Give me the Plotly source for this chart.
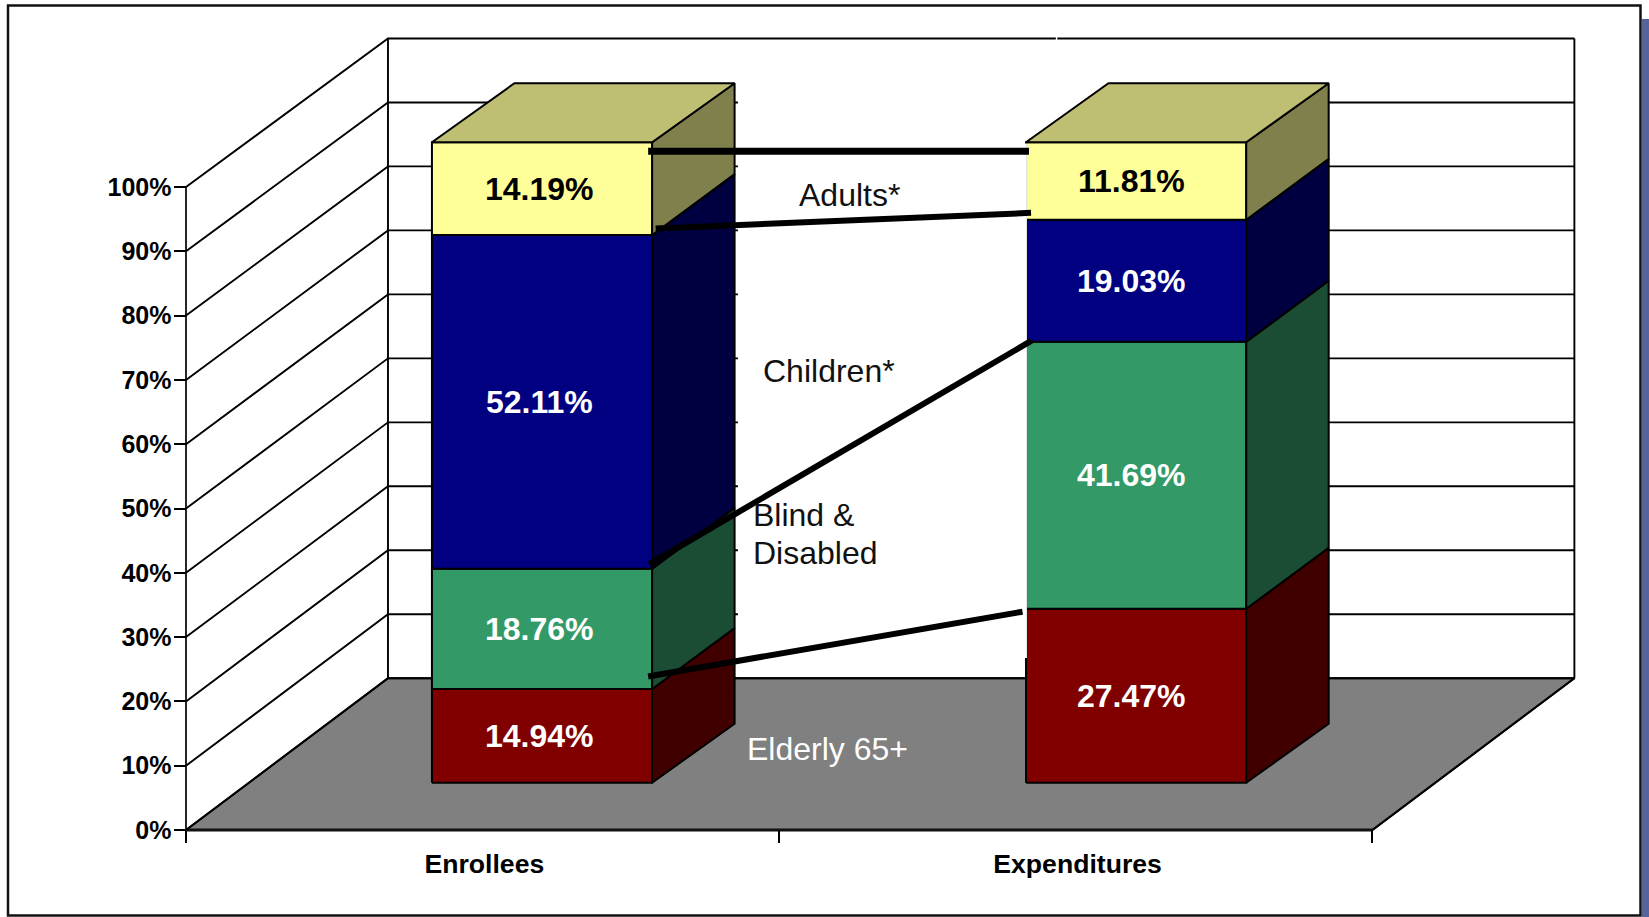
import plotly.graph_objects as go

# ---------- data ----------
categories = ["Enrollees", "Expenditures"]
elderly = [14.94, 27.47]
blind_disabled = [18.76, 41.69]
children = [52.11, 19.03]
adults = [14.19, 11.81]
y_ticks = [0, 10, 20, 30, 40, 50, 60, 70, 80, 90, 100]
y_tick_labels = [f"{v}%" for v in y_ticks]
series_names = ["Elderly 65+", "Blind &", "Disabled", "Children*", "Adults*"]

# ---------- geometry / style ----------
W, H = 1649, 917
FONT = "Liberation Sans"
X0_PX, X_SCALE = 186.0, 593.2      # px of u=0, px per category
Y0_PX, Y_SCALE = 830.0, 6.43       # px of v=0, px per value unit
WALL_DU, WALL_DV, WALL_K = 0.3405, 23.6, 0.995
BAR_U0, BAR_V0, BAR_K = 0.1062, 7.356, 0.996
BAR_DU, BAR_DV = 0.139, 9.176
BAR_CENTERS = [0.494, 1.4955]
BAR_HALF = 0.1856
BOUNDARY_NUDGE = 0.3               # interior stack edges sit slightly low on the front face
LABEL_SHIFT_PX = [-3.0, -5.0]


def px_x(p):
    return (p - X0_PX) / X_SCALE


def px_y(p):
    return (Y0_PX - p) / Y_SCALE


def wall(u, v, d=1.0):
    return u + d * WALL_DU, v * (1 - d * (1 - WALL_K)) + d * WALL_DV


def bar_pt(u, pct, back=0.0):
    nudge = BOUNDARY_NUDGE if back == 0 and 0 < pct < 99.99 else 0.0
    return u + BAR_U0 + back * BAR_DU, BAR_V0 + pct * BAR_K + back * BAR_DV - nudge


fig = go.Figure()


def poly(points, fill=None, color="black", width=1.5):
    xs = [p[0] for p in points]
    ys = [p[1] for p in points]
    if fill:
        xs.append(xs[0])
        ys.append(ys[0])
    fig.add_trace(go.Scatter(
        x=xs, y=ys, mode="lines", hoverinfo="skip", showlegend=False,
        fill="toself" if fill else "none", fillcolor=fill,
        line=dict(color=color, width=width),
    ))


# floor
floor = [wall(0, 0, 0), wall(2, 0, 0), wall(2, 0), wall(0, 0)]
poly(floor, fill="#808080", width=2)
poly([wall(0, 0, 0), wall(2, 0, 0)], color="#111111", width=3)

# walls and gridlines
for v in y_ticks:
    poly([wall(0, v, 0), wall(0, v), wall(2, v)], width=1.9)
poly([wall(0, 0, 0), wall(0, 100, 0)], width=1.7)
poly([wall(0, 0), wall(0, 100)], width=1.9)
poly([wall(2, 0), wall(2, 100)], width=1.9)
poly([wall(2, 0, 0), wall(2, 0)], width=1.9)

# white panel that hides gridlines between the two bars
poly([(px_x(738), px_y(41)), (px_x(1082), px_y(41)),
      (px_x(1082), px_y(676)), (px_x(738), px_y(676))],
     fill="white", color="white", width=0)
poly([(px_x(1056.6), px_y(36.5)), (px_x(1056.6), px_y(41))], color="white", width=1.5)

# stacked 3-D bars
stack = [
    (elderly, "#800000", "#400000", "#600000", "white"),
    (blind_disabled, "#339966", "#1A4D33", "#26734D", "white"),
    (children, "#000080", "#000040", "#000060", "white"),
    (adults, "#FFFF99", "#80804D", "#BFBF73", "black"),
]
boundaries = []
annotations = []
for i, c in enumerate(BAR_CENTERS):
    left, right = c - BAR_HALF, c + BAR_HALF
    base = 0.0
    levels = [0.0]
    for values, front, side, top, txt in stack:
        t = base + values[i]
        poly([bar_pt(left, base), bar_pt(right, base), bar_pt(right, t), bar_pt(left, t)], fill=front, width=2)
        poly([bar_pt(right, base), bar_pt(right, base, 1), bar_pt(right, t, 1), bar_pt(right, t)], fill=side, width=2)
        mx = bar_pt(c, 0)[0]
        my = (bar_pt(c, base)[1] + bar_pt(c, t)[1]) / 2
        annotations.append(dict(
            x=mx + LABEL_SHIFT_PX[i] / X_SCALE, y=my, xref="x", yref="y", text=f"{values[i]:.2f}%", showarrow=False,
            font=dict(family=FONT, size=32, color=txt, weight=700),
            xanchor="center", yanchor="middle",
        ))
        base = t
        levels.append(t)
    boundaries.append(levels)
    poly([bar_pt(left, base), bar_pt(right, base), bar_pt(right, base, 1), bar_pt(left, base, 1)],
         fill=stack[-1][3], width=2)

# left edge of the second bar is clipped by the white panel above y=658
poly([(px_x(1024), px_y(143.5)), (px_x(1026.9), px_y(143.5)),
      (px_x(1026.9), px_y(658)), (px_x(1024), px_y(658))],
     fill="white", color="white", width=0)

# connector lines between matching stack levels (px nudges on each end)
connectors = [
    (4, (-4, 9), (3, 9), 7),
    (3, (3.5, -6.5), (5, -7), 6),
    (2, (-3, -4.5), (5.5, -1), 6),
    (1, (-4, -12.5), (-3.5, 3), 6),
]
for lvl, off_l, off_r, w in connectors:
    xl, yl = bar_pt(BAR_CENTERS[0] + BAR_HALF, boundaries[0][lvl])
    xr, yr = bar_pt(BAR_CENTERS[1] - BAR_HALF, boundaries[1][lvl])
    poly([(xl + off_l[0] / X_SCALE, yl - off_l[1] / Y_SCALE),
          (xr + off_r[0] / X_SCALE, yr - off_r[1] / Y_SCALE)], color="black", width=w)

# series labels
label_pos = [(746, 749, "white"), (752, 515, "#111111"), (752, 553, "#111111"),
             (761.5, 371, "#111111"), (798, 195, "#111111")]
for name, (px, py, col) in zip(series_names, label_pos):
    annotations.append(dict(
        x=px_x(px), y=px_y(py), xref="x", yref="y", text=name, showarrow=False,
        font=dict(family=FONT, size=32, color=col), xanchor="left", yanchor="middle", borderpad=0,
    ))

fig.update_layout(
    width=W, height=H, autosize=False, showlegend=False,
    margin=dict(l=0, r=0, t=0, b=0),
    paper_bgcolor="white", plot_bgcolor="white",
    xaxis=dict(
        range=[px_x(0), px_x(W)], showgrid=False, zeroline=False, showline=False,
        anchor="free", position=(H - Y0_PX) / H,
        tickmode="array", tickvals=[0.503, 1.503], ticktext=categories, ticks="",
        tickfont=dict(family=FONT, size=26.6, color="black", weight=700),
        ticklabelstandoff=15,
        minor=dict(tickmode="array", tickvals=[0, 1, 2], ticks="outside", ticklen=12,
                   tickwidth=1.5, tickcolor="black", showgrid=False),
    ),
    yaxis=dict(
        range=[px_y(H), px_y(0)], showgrid=False, zeroline=False, showline=False,
        anchor="free", position=X0_PX / W,
        tickmode="array", tickvals=y_ticks, ticktext=y_tick_labels,
        ticks="outside", ticklen=12.5, tickwidth=1.5, tickcolor="black",
        tickfont=dict(family=FONT, size=25, color="black", weight=700),
        ticklabelstandoff=-3,
    ),
    annotations=annotations,
    shapes=[
        dict(type="rect", xref="paper", yref="paper", layer="below",
             x0=1642 / W, x1=1, y0=0, y1=1 - 19 / H, fillcolor="#55659A", line_width=0),
        dict(type="rect", xref="paper", yref="paper", layer="below",
             x0=8 / W, x1=1640.5 / W, y0=1 - 915.5 / H, y1=1 - 5.5 / H,
             fillcolor="white", line=dict(color="#111111", width=2.5)),
    ],
)

fig.write_html(
    "out.html",
    config={"displayModeBar": False},
    post_script="document.body.style.margin='0';document.documentElement.style.overflow='hidden';",
)
